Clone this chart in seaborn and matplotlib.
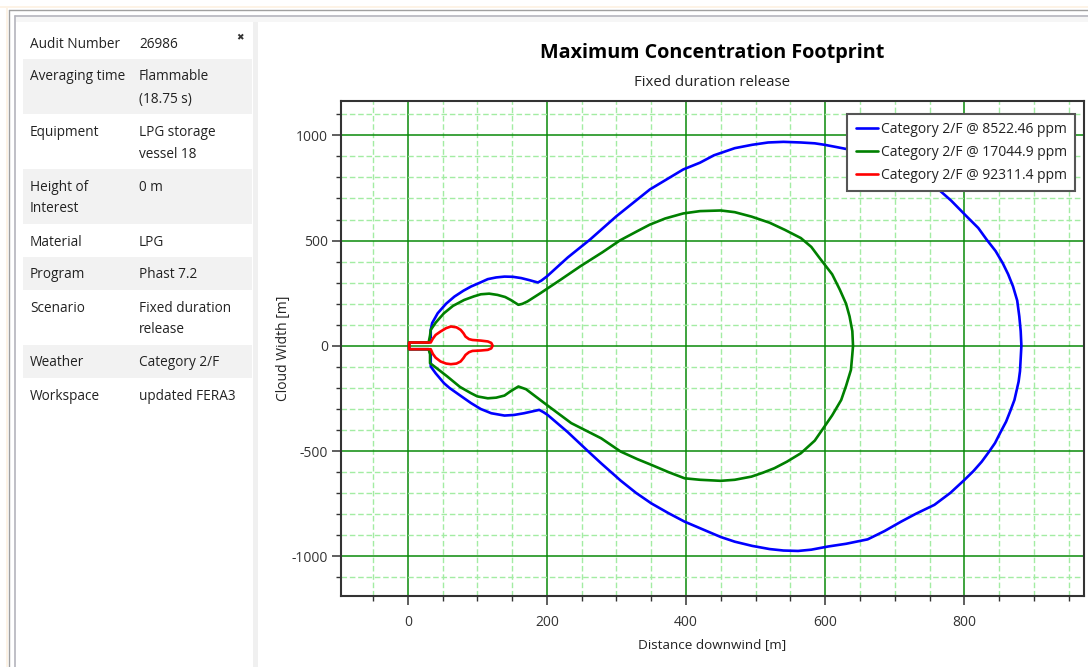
import matplotlib
matplotlib.use("Agg")
import matplotlib.pyplot as plt
import numpy as np
import pandas as pd
import seaborn as sns
from matplotlib.patches import Rectangle
from matplotlib.lines import Line2D
from matplotlib.ticker import MultipleLocator

# ---------------- data ----------------
series_labels = ["Category 2/F @ 8522.46 ppm",
                 "Category 2/F @ 17044.9 ppm",
                 "Category 2/F @ 92311.4 ppm"]
series_colors = ["#0000ff", "#008000", "#ff0000"]

blue_x = [2, 2, 30, 33, 33, 35, 43, 55, 67, 80, 91, 105, 115, 127, 139, 151, 163, 175, 187, 192, 200,
          230, 262, 300, 348, 396, 420, 440, 470, 495, 518, 540, 565, 585, 599, 615, 632, 661, 685, 709, 735, 757,
          781, 803, 820, 832, 845, 855, 863, 870, 876, 879, 881, 882,
          881, 880, 878, 872, 866, 860, 852, 844, 835, 825, 813, 800, 780, 757, 730, 709, 685, 661, 630,
          604, 580, 561, 540, 520, 495, 470, 450, 430, 398, 375, 350, 328, 306, 278, 259, 230, 201, 195, 189,
          178, 167, 153, 139, 120, 105, 91, 75, 60, 52, 40, 33, 33, 30, 2, 2]
blue_y = [0, 16, 16, 40, 76, 108, 155, 200, 234, 262, 282, 302, 317, 325, 329, 328, 322, 312, 301, 310, 330,
          420, 505, 616, 743, 838, 870, 905, 939, 955, 966, 969, 966, 962, 955, 945, 934, 915, 880, 835, 795, 760,
          690, 616, 560, 505, 450, 394, 340, 282, 215, 140, 70, 0,
          -60, -120, -170, -257, -310, -360, -410, -462, -505, -550, -595, -637, -698, -755, -798, -835, -880, -919, -940,
          -953, -968, -974, -972, -965, -950, -930, -908, -880, -835, -795, -748, -698, -640, -558, -500, -410, -328, -315, -304,
          -312, -320, -328, -331, -320, -300, -272, -235, -200, -177, -130, -98, -40, -16, -16, 0]

green_x = [2, 2, 30, 32, 33, 40, 52, 65, 81, 95, 105, 117, 129, 140, 148, 159, 165, 172, 191, 220, 248,
           280, 305, 330, 348, 370, 396, 420, 450, 470, 494, 520, 542, 565, 580, 592, 610, 621, 630, 635, 639, 640,
           639, 637, 630, 623, 610, 599, 585, 565, 545, 527, 510, 494, 470, 450, 420, 398, 375, 350, 330, 306, 278,
           235, 200, 170, 159, 148, 139, 127, 115, 100, 91, 75, 57, 45, 32, 32, 30, 2, 2]
green_y = [0, 16, 16, 50, 76, 110, 155, 190, 218, 235, 245, 248, 242, 232, 218, 195, 200, 211, 251, 315, 378,
           445, 501, 545, 576, 605, 629, 640, 643, 635, 614, 585, 551, 512, 470, 417, 340, 267, 200, 140, 70, 0,
           -40, -114, -190, -257, -330, -383, -450, -510, -550, -581, -603, -621, -636, -641, -636, -629, -600, -565, -538, -502, -439,
           -367, -281, -206, -193, -215, -236, -246, -249, -240, -225, -195, -146, -115, -82, -40, -16, -16, 0]

red_x = [2, 2, 33, 36, 40, 47, 55, 62, 70, 76, 80, 83, 88, 93, 105, 115, 120, 122,
         120, 115, 105, 93, 88, 83, 80, 76, 70, 62, 55, 47, 40, 36, 33, 2, 2]
red_y = [0, 16, 16, 34, 52, 68, 84, 92, 88, 76, 60, 44, 32, 28, 25, 21, 14, 1,
         -12, -19, -22, -24, -30, -43, -58, -74, -84, -87, -84, -74, -56, -38, -16, -16, 0]

table_labels = ["Audit Number", "Averaging time", "Equipment", "Height of\nInterest", "Material",
                "Program", "Scenario", "Weather", "Workspace"]
table_values = ["26986", "Flammable\n(18.75 s)", "LPG storage\nvessel 18", "0 m", "LPG",
                "Phast 7.2", "Fixed duration\nrelease", "Category 2/F", "updated FERA3"]

title = "Maximum Concentration Footprint"
subtitle = "Fixed duration release"
xlabel = "Distance downwind [m]"
ylabel = "Cloud Width [m]"

# ---------------- style ----------------
sns.set_theme(style="white")
plt.rcParams["font.family"] = ["Open Sans", "DejaVu Sans"]
plt.rcParams["axes.unicode_minus"] = False
TXT = "#222222"

W, H = 1088, 667
fig = plt.figure(figsize=(W / 100, H / 100), dpi=100)
fig.patch.set_facecolor("white")


def fx(px):
    return px / W


def fy(py):
    return 1 - py / H


# window frame
fig.add_artist(Rectangle((0, fy(8)), 1, 2 / H, transform=fig.transFigure, color="#fdf3e6", lw=0))
fig.add_artist(Rectangle((fx(6), 0), 2 / W, fy(8), transform=fig.transFigure, color="#fdf3e6", lw=0))
fig.add_artist(Line2D([fx(9), 1], [fy(10), fy(10)], transform=fig.transFigure, color="#a0a0a0", lw=1.0))
fig.add_artist(Line2D([fx(9), fx(9)], [0, fy(10)], transform=fig.transFigure, color="#a0a0a0", lw=1.0))
fig.add_artist(Line2D([fx(15), 1], [fy(16), fy(16)], transform=fig.transFigure, color="#b4b4bc", lw=1.2))
fig.add_artist(Line2D([fx(15), fx(15)], [0, fy(16)], transform=fig.transFigure, color="#b4b4bc", lw=1.2))
fig.add_artist(Rectangle((fx(16), fy(22)), 1, 5 / H, transform=fig.transFigure, color="#f6f6f6", lw=0))
fig.add_artist(Rectangle((fx(253), 0), 5 / W, fy(22), transform=fig.transFigure, color="#f0f0f0", lw=0))

# info table
row_top = 26
for i, (lab, val) in enumerate(zip(table_labels, table_values)):
    nlines = max(lab.count("\n"), val.count("\n")) + 1
    h = 33 if nlines == 1 else 55
    if i % 2 == 1:
        fig.add_artist(Rectangle((fx(23), fy(row_top + h)), (252 - 23) / W, h / H,
                                 transform=fig.transFigure, color="#f2f2f2", lw=0))
    for j, line in enumerate(lab.split("\n")):
        fig.text(fx(30), fy(row_top + 18 + 22 * j), line, ha="left", va="center",
                 fontsize=9.8, color=TXT)
    for j, line in enumerate(val.split("\n")):
        fig.text(fx(139), fy(row_top + 18 + 22 * j), line, ha="left", va="center",
                 fontsize=9.8, color=TXT)
    row_top += h
fig.text(fx(240), fy(38), "\u2716", ha="center", va="center", fontsize=6.5,
         color="#333333", family="DejaVu Sans")

# titles
fig.text(fx(712), fy(53), title, ha="center", va="center", fontsize=14.2, fontweight="bold", color="#000000")
fig.text(fx(712), fy(82), subtitle, ha="center", va="center", fontsize=10.8, color=TXT)

# ---------------- chart ----------------
ax = fig.add_axes([fx(341), fy(596), (1084 - 341) / W, (596 - 101) / H])

frames = []
for lab, xs, ys in zip(series_labels, [blue_x, green_x, red_x], [blue_y, green_y, red_y]):
    frames.append(pd.DataFrame({"x": xs, "y": ys, "series": lab}))
df = pd.concat(frames, ignore_index=True)

sns.lineplot(data=df, x="x", y="y", hue="series", hue_order=series_labels,
             palette=dict(zip(series_labels, series_colors)), sort=False, estimator=None,
             linewidth=1.9, ax=ax, legend=False, zorder=3)
for ln in ax.get_lines():
    ln.set_solid_joinstyle("round")

ax.set_xlim(-96, 972)
ax.set_ylim(-1188, 1163)
ax.xaxis.set_major_locator(MultipleLocator(200))
ax.xaxis.set_minor_locator(MultipleLocator(50))
ax.yaxis.set_major_locator(MultipleLocator(500))
ax.yaxis.set_minor_locator(MultipleLocator(100))
ax.set_axisbelow(True)
ax.grid(which="minor", color="#a3eca3", lw=1.0, ls=(0, (4, 2)))
ax.grid(which="major", color="#0a8a0a", lw=1.1, ls="-")

ax.tick_params(axis="both", which="major", direction="out", length=6.5, width=1.1,
               color="#333333", labelcolor="#333333", labelsize=10, bottom=True, left=True)
ax.tick_params(axis="both", which="minor", direction="out", length=3.4, width=1.0,
               color="#333333", bottom=True, left=True)
ax.tick_params(axis="x", which="major", pad=7)
ax.tick_params(axis="y", which="major", pad=3)

for s in ax.spines.values():
    s.set_color("#333333")
    s.set_linewidth(1.5)

ax.set_xlabel(xlabel, fontsize=9.7, color=TXT)
ax.set_ylabel(ylabel, fontsize=10, color=TXT)
ax.xaxis.set_label_coords((712 - 341) / 743, (596 - 645) / 495)
ax.yaxis.set_label_coords((284 - 341) / 743, (596 - 348) / 495)
ax.xaxis.label.set_va("center")
ax.yaxis.label.set_va("center")

handles = ax.get_lines()[:3]
leg = ax.legend(handles, series_labels, loc="upper right",
                bbox_to_anchor=(fx(1075), fy(114)), bbox_transform=fig.transFigure,
                borderaxespad=0, frameon=True, fancybox=False, framealpha=1,
                edgecolor="#555555", fontsize=10, handlelength=1.6, handletextpad=0.2,
                labelspacing=0.55, borderpad=0.6)
leg.get_frame().set_linewidth(1.5)
for t in leg.get_texts():
    t.set_color(TXT)

fig.savefig("out.png", dpi=100)
